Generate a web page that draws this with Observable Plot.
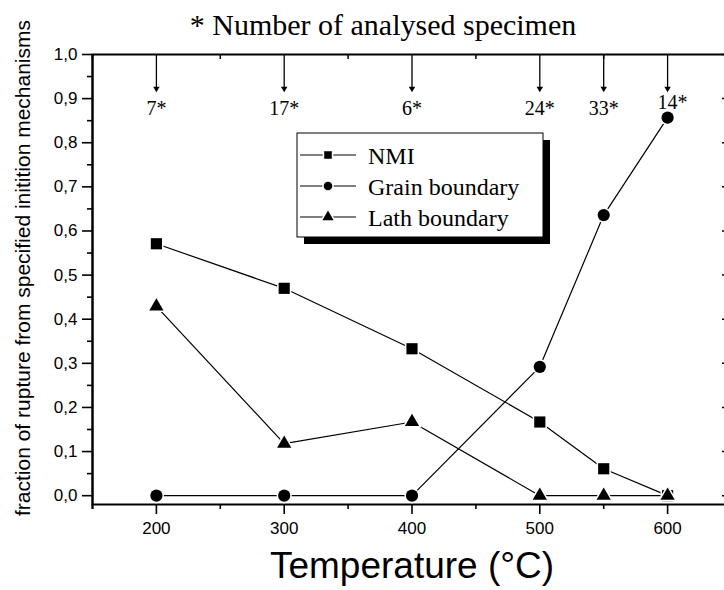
<!DOCTYPE html>
<html><head><meta charset="utf-8">
<script src="https://cdn.jsdelivr.net/npm/d3@7"></script>
<script src="https://cdn.jsdelivr.net/npm/@observablehq/plot@0.6"></script>
<style>body{margin:0;background:#fff}</style>
</head><body><div id="chart"></div>
<script>
const temperatures = [200, 300, 400, 500, 550, 600];
const nmiFraction = [0.571, 0.470, 0.333, 0.167, 0.061, 0.000];
const grainFraction = [0.000, 0.000, 0.000, 0.292, 0.636, 0.857];
const lathFraction = [0.429, 0.118, 0.167, 0.000, 0.000, 0.000];
const specimenLabels = ["7*", "17*", "6*", "24*", "33*", "14*"];
const seriesNames = ["NMI", "Grain boundary", "Lath boundary"];
const seriesSymbols = ["square", "circle", "triangle"];
const xMajorTicks = [200, 300, 400, 500, 600];
const xMinorTicks = [150, 250, 350, 450, 550, 650];
const yMajorTicks = [0, 0.1, 0.2, 0.3, 0.4, 0.5, 0.6, 0.7, 0.8, 0.9, 1.0];
const yTickLabels = ["0,0", "0,1", "0,2", "0,3", "0,4", "0,5", "0,6", "0,7", "0,8", "0,9", "1,0"];
const yMinorTicks = [0.05, 0.15, 0.25, 0.35, 0.45, 0.55, 0.65, 0.75, 0.85, 0.95];
const titleText = "* Number of analysed specimen";
const xLabelText = "Temperature (°C)";
const yLabelText = "fraction of rupture from specified initition mechanisms";

const seriesValues = [nmiFraction, grainFraction, lathFraction];
const rows = [];
seriesValues.forEach((vals, s) => temperatures.forEach((t, i) => rows.push({series: seriesNames[s], t, v: vals[i]})));
const specimens = temperatures.map((t, i) => ({t, label: specimenLabels[i]}));

const serif = "'Liberation Serif', 'Times New Roman', serif";
const sans = "'Liberation Sans', Arial, sans-serif";
const dotR = {"NMI": 6.3, "Grain boundary": 6.1, "Lath boundary": 5.3};

const plot = Plot.plot({
  width: 724, height: 590,
  marginLeft: 92, marginRight: -7, marginTop: 54, marginBottom: 86,
  x: {domain: [150, 650]},
  y: {domain: [-0.02, 1.0]},
  symbol: {domain: seriesNames, range: seriesSymbols},
  style: {fontFamily: sans, fontSize: "17px", color: "black", background: "white", overflow: "visible"},
  marks: [
    Plot.axisX({ticks: xMajorTicks, anchor: "bottom", tickSize: 10, tickPadding: 7, strokeWidth: 1.6, label: null, tickFormat: d => String(d)}),
    Plot.axisX({ticks: xMinorTicks, anchor: "bottom", tickSize: 5, strokeWidth: 1.6, label: null, tickFormat: () => ""}),
    Plot.axisY({ticks: yMajorTicks, anchor: "left", tickSize: 10, tickPadding: 5, strokeWidth: 1.6, label: null, tickFormat: d => yTickLabels[yMajorTicks.indexOf(d)]}),
    Plot.axisY({ticks: yMinorTicks, anchor: "left", tickSize: 5, strokeWidth: 1.6, label: null, tickFormat: () => ""}),
    Plot.tickX(xMinorTicks, {x: d => d, insetBottom: 445, strokeWidth: 1.5}),
    Plot.tickY(yMajorTicks, {y: d => d, insetLeft: 630, strokeWidth: 1.5}),
    Plot.frame({stroke: "black", strokeWidth: 2}),
    Plot.ruleX([150], {x: d => d, insetBottom: -5, strokeWidth: 2}),
    // specimen arrows
    Plot.tickX(temperatures, {x: d => d, insetBottom: 416, strokeWidth: 1.3}),
    Plot.dot(temperatures, {x: d => d, frameAnchor: "top", dy: 34, symbol: "triangle", rotate: 180, r: 2.4, fill: "black", stroke: "none"}),
    Plot.text(specimens, {filter: d => d.t !== 600, x: "t", text: "label", frameAnchor: "top", lineAnchor: "middle", dy: 54.5, fontFamily: serif, fontSize: 20}),
    Plot.text(specimens, {filter: d => d.t === 600, x: "t", text: "label", frameAnchor: "top", lineAnchor: "middle", dy: 48, dx: 5, fontFamily: serif, fontSize: 20}),
    // series
    Plot.line(rows, {x: "t", y: "v", z: "series", stroke: "black", strokeWidth: 1.2}),
    ...seriesNames.map(name => Plot.dot(rows, {filter: d => d.series === name, x: "t", y: "v", symbol: "series", r: dotR[name], fill: "black", stroke: "white", strokeWidth: 3, paintOrder: "stroke"}))
  ]
});
document.getElementById("chart").appendChild(plot);

const svg = d3.select(plot);
svg.append("text").attr("x", 383).attr("y", 35).attr("text-anchor", "middle")
  .attr("font-family", serif).attr("font-size", 30).attr("fill", "black").text(titleText);
svg.append("text").attr("x", 412).attr("y", 578).attr("text-anchor", "middle")
  .attr("font-family", sans).attr("font-size", 37).attr("fill", "black").text(xLabelText);
svg.append("text").attr("transform", "translate(30,268) rotate(-90)").attr("text-anchor", "middle")
  .attr("font-family", sans).attr("font-size", 21).attr("fill", "black").text(yLabelText);

// legend
const lg = svg.append("g").attr("text-anchor", "start");
lg.append("rect").attr("x", 304).attr("y", 140).attr("width", 246).attr("height", 104).attr("fill", "black");
lg.append("rect").attr("x", 297).attr("y", 133).attr("width", 246).attr("height", 104).attr("fill", "white").attr("stroke", "black").attr("stroke-width", 1);
const symSize = {"square": Math.PI * 5.5 * 5.5, "circle": Math.PI * 5 * 5, "triangle": Math.PI * 4.8 * 4.8};
seriesNames.forEach((name, i) => {
  const cy = 155 + i * 31;
  lg.append("line").attr("x1", 300).attr("x2", 356).attr("y1", cy).attr("y2", cy).attr("stroke", "black").attr("stroke-width", 1.2);
  const sym = {"square": d3.symbolSquare, "circle": d3.symbolCircle, "triangle": d3.symbolTriangle}[seriesSymbols[i]];
  lg.append("path").attr("transform", `translate(328,${cy})`).attr("d", d3.symbol(sym, symSize[seriesSymbols[i]] * (seriesSymbols[i] === "square" ? 0.6 : 0.75))())
    .attr("fill", "black").attr("stroke", "white").attr("stroke-width", 3).attr("paint-order", "stroke");
  lg.append("text").attr("x", 368).attr("y", cy + 8.5).attr("text-anchor", "start").attr("font-family", serif).attr("font-size", 24).attr("fill", "black").text(name);
});
</script>
</body></html>
